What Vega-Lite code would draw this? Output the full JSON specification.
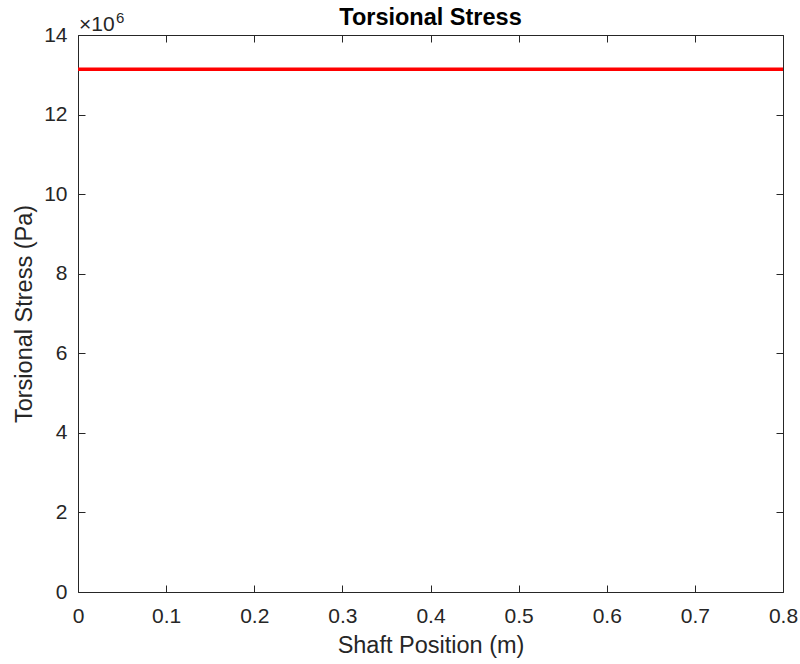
{
  "$schema": "https://vega.github.io/schema/vega-lite/v6.json",
  "width": 705,
  "height": 557,
  "autosize": {"type": "none"},
  "padding": {"left": 78, "top": 35, "right": 17, "bottom": 72},
  "background": "white",
  "config": {
    "font": "Liberation Sans",
    "view": {"stroke": null},
    "axis": {
      "domainColor": "#262626",
      "domainWidth": 1,
      "tickColor": "#262626",
      "tickWidth": 1,
      "tickSize": -7,
      "labelColor": "#262626",
      "labelFontSize": 21,
      "labelFont": "Liberation Sans",
      "titleColor": "#262626",
      "titleFontSize": 23.5,
      "titleFontWeight": "normal",
      "titleFont": "Liberation Sans",
      "grid": false
    }
  },
  "title": {
    "text": "Torsional Stress",
    "fontSize": 23.5,
    "fontWeight": "bold",
    "color": "#000000",
    "font": "Liberation Sans",
    "offset": -18
  },
  "data": {
    "values": [
      {"position": 0.0, "stress": 13140000},
      {"position": 0.1, "stress": 13140000},
      {"position": 0.2, "stress": 13140000},
      {"position": 0.3, "stress": 13140000},
      {"position": 0.4, "stress": 13140000},
      {"position": 0.5, "stress": 13140000},
      {"position": 0.6, "stress": 13140000},
      {"position": 0.7, "stress": 13140000},
      {"position": 0.8, "stress": 13140000}
    ]
  },
  "layer": [
    {
      "mark": {"type": "line", "color": "#ff0000", "strokeWidth": 3.5, "clip": true},
      "encoding": {
        "x": {
          "field": "position",
          "type": "quantitative",
          "scale": {"domain": [0, 0.8], "nice": false, "zero": false},
          "axis": {
            "orient": "bottom",
            "title": "Shaft Position (m)",
            "values": [0, 0.1, 0.2, 0.3, 0.4, 0.5, 0.6, 0.7, 0.8],
            "format": "~g",
            "labelPadding": 20,
            "titlePadding": 7,
            "labelFlush": false
          }
        },
        "y": {
          "field": "stress",
          "type": "quantitative",
          "scale": {"domain": [0, 14000000], "nice": false},
          "axis": {
            "orient": "left",
            "title": "Torsional Stress (Pa)",
            "values": [0, 2000000, 4000000, 6000000, 8000000, 10000000, 12000000, 14000000],
            "labelExpr": "format(datum.value / 1000000, '~g')",
            "labelPadding": 18,
            "titlePadding": 7,
            "labelFlush": false
          }
        }
      }
    },
    {
      "mark": {"type": "line", "opacity": 0},
      "encoding": {
        "x": {
          "field": "position",
          "type": "quantitative",
          "axis": {
            "orient": "top",
            "title": null,
            "labels": false,
            "values": [0, 0.1, 0.2, 0.3, 0.4, 0.5, 0.6, 0.7, 0.8]
          }
        },
        "y": {
          "field": "stress",
          "type": "quantitative",
          "axis": {
            "orient": "right",
            "title": null,
            "labels": false,
            "values": [0, 2000000, 4000000, 6000000, 8000000, 10000000, 12000000, 14000000]
          }
        }
      }
    },
    {
      "data": {"values": [{"label": "×10"}]},
      "mark": {"type": "text", "align": "left", "baseline": "alphabetic", "dx": 1, "dy": -4, "fontSize": 21, "color": "#262626", "font": "Liberation Sans"},
      "encoding": {
        "x": {"datum": 0, "type": "quantitative", "axis": null},
        "y": {"datum": 14000000, "type": "quantitative", "axis": null},
        "text": {"field": "label"}
      }
    },
    {
      "data": {"values": [{"label": "6"}]},
      "mark": {"type": "text", "align": "left", "baseline": "alphabetic", "dx": 38, "dy": -12, "fontSize": 15, "color": "#262626", "font": "Liberation Sans"},
      "encoding": {
        "x": {"datum": 0, "type": "quantitative", "axis": null},
        "y": {"datum": 14000000, "type": "quantitative", "axis": null},
        "text": {"field": "label"}
      }
    }
  ],
  "resolve": {"axis": {"x": "independent", "y": "independent"}}
}
